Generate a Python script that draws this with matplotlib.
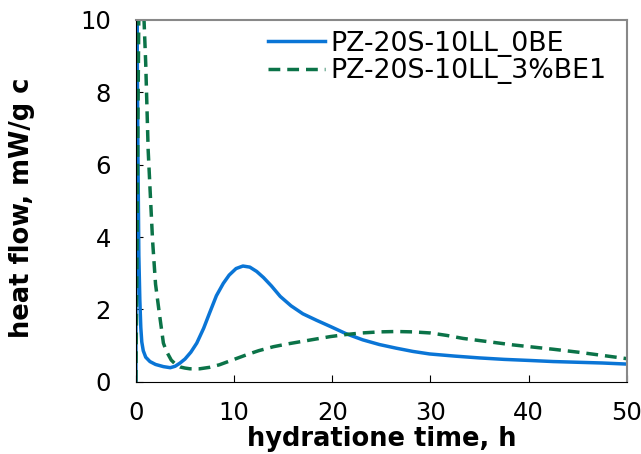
import numpy as np
from matplotlib import pyplot as plt

# blue, solid
t_0be = [0.0, 0.03, 0.1, 0.2, 0.3, 0.4, 0.5, 0.6, 0.75, 1.0, 1.43, 2.0, 2.8, 3.5, 4.0, 4.5,
         5.0, 5.6, 6.2, 6.9, 7.5, 8.2, 8.9, 9.5, 10.2, 10.9, 11.6, 12.3, 13.0, 13.8, 14.7,
         15.8, 17.0, 18.4, 19.8, 21.4, 23.1, 24.8, 26.5, 28.2, 29.9, 32.5, 35.0, 37.5, 40.1,
         42.5, 45.0, 47.5, 50.0]
q_0be = [0.0, 8.0, 11.0, 6.5, 3.5, 2.27, 1.5, 1.1, 0.86, 0.68, 0.56, 0.48, 0.42, 0.39, 0.43, 0.52,
         0.63, 0.82, 1.07, 1.48, 1.9, 2.38, 2.72, 2.95, 3.13, 3.2, 3.17, 3.05, 2.88, 2.65, 2.36,
         2.1, 1.88, 1.7, 1.53, 1.33, 1.16, 1.03, 0.93, 0.84, 0.77, 0.71, 0.66, 0.62, 0.59,
         0.56, 0.54, 0.52, 0.49]

# green, dashed
t_3be = [0.0, 0.1, 0.2, 0.3, 0.5, 0.8, 1.0, 1.25, 1.5, 1.7, 2.0, 2.36, 2.8, 3.1, 3.6, 4.1,
         4.5, 5.0, 5.5, 6.5, 7.5, 8.5, 9.5, 10.5, 11.3, 12.5, 14.0, 15.5, 17.0, 18.5, 19.8,
         21.5, 23.0, 24.8, 26.5, 28.2, 30.0, 31.7, 33.3, 35.0, 36.7, 38.4, 40.1, 42.5, 45.0,
         47.5, 50.0]
q_3be = [0.0, 3.0, 7.0, 10.2, 10.8, 10.2, 8.8, 6.4, 5.0, 3.9, 2.7, 1.95, 1.07, 0.85, 0.6, 0.47,
         0.41, 0.38, 0.36, 0.36, 0.4, 0.47, 0.57, 0.67, 0.75, 0.86, 0.97, 1.05, 1.12, 1.19, 1.25,
         1.31, 1.35, 1.38, 1.39, 1.38, 1.35, 1.28, 1.2, 1.14, 1.08, 1.02, 0.97, 0.9, 0.82,
         0.73, 0.64]

labels = ['PZ-20S-10LL_0BE', 'PZ-20S-10LL_3%BE1']

fig = plt.figure(figsize=(6.41, 4.54), dpi=100)
ax = fig.add_axes([0.212, 0.159, 0.766, 0.797])

ax.plot(t_0be, q_0be, color='#0a75d6', lw=2.5, label=labels[0])
ax.plot(t_3be, q_3be, color='#0b7348', lw=2.5, ls=(0, (3.4, 2)), label=labels[1])

ax.set_xlim(0, 50)
ax.set_ylim(0, 10)
ax.set_xticks(range(0, 51, 10))
ax.set_yticks(range(0, 11, 2))
ax.tick_params(direction='in', labelsize=17.5, length=5)
ax.tick_params(axis='y', pad=18)
ax.tick_params(axis='x', pad=14)
for s in ['top', 'right']:
    ax.spines[s].set_color('#888888')
    ax.spines[s].set_linewidth(1.5)

ax.set_xlabel('hydratione time, h', fontsize=18.5, fontweight='bold', va='top')
ax.set_ylabel('heat flow, mW/g c', fontsize=18.5, fontweight='bold')
ax.xaxis.set_label_coords(0.5, -0.122)
ax.yaxis.set_label_coords(-0.205, 0.482)

ax.legend(loc='upper left', bbox_to_anchor=(0.269, 0.97), frameon=False, fontsize=19.3,
          handlelength=2.14, handletextpad=0.19, borderaxespad=0, borderpad=0,
          labelspacing=0.05)

fig.savefig('out.png', dpi=100)
